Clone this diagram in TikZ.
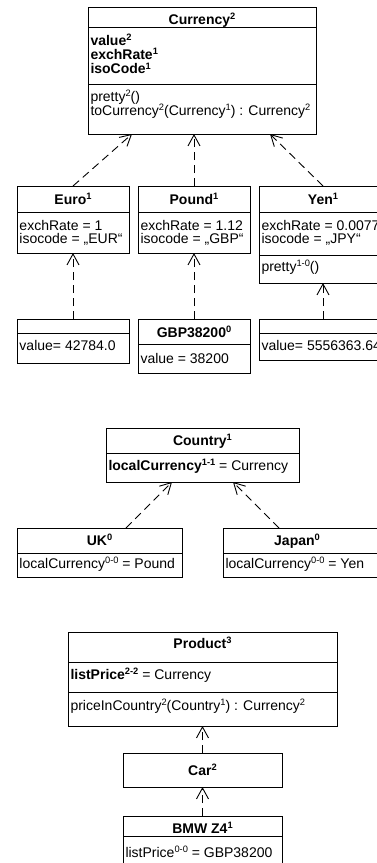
\documentclass[tikz,border=0pt]{standalone}
\usepackage{fontspec}
\setmainfont{Liberation Sans}
\usetikzlibrary{arrows.meta}
\newcommand\sups[1]{\raisebox{4.8pt}{\fontsize{9.3}{9.3}\selectfont#1}}
\tikzset{
  umlbox/.style={draw, line width=0.9pt, inner sep=0pt, outer sep=0pt, anchor=north west, fill=white},
  sepline/.style={line width=0.9pt},
  txt/.style={inner sep=0pt, outer sep=0pt, font=\fontsize{14}{16}\selectfont},
  ttl/.style={txt, anchor=base, font=\fontsize{14}{16}\selectfont\bfseries},
  attr/.style={txt, anchor=base west},
  dep/.style={line width=0.9pt, dash pattern=on 8pt off 5pt, -{Straight Barb[length=11pt, width=12pt]}}
}
\begin{document}
\begin{tikzpicture}[x=1pt, y=-1pt]
\useasboundingbox (0,0) rectangle (377,863);
\fill[white] (0,0) rectangle (377,863);
\clip (0,0) rectangle (377,863);

% Currency
\node[umlbox, minimum width=228pt, minimum height=127pt] (currency) at (88,7) {};
\draw[sepline] (88,27) -- (316,27);
\draw[sepline] (88,84) -- (316,84);
\node[ttl] (currency-t) at (202,24.5) {Currency\sups{2}};
\node[attr] (currency-a1) at (90.5,45.5) {\textbf{value\sups{2}}};
\node[attr] (currency-a2) at (90.5,59.7) {\textbf{exchRate\sups{1}}};
\node[attr] (currency-a3) at (90.5,73.9) {\textbf{isoCode\sups{1}}};
\node[attr] (currency-m1) at (90.5,101) {pretty\sups{2}()};
\node[attr] (currency-m2) at (90.5,115) {toCurrency\sups{2}(Currency\sups{1}) : Currency\sups{2}};

% Euro
\node[umlbox, minimum width=112pt, minimum height=67pt] (euro) at (17,186) {};
\draw[sepline] (17,212) -- (129,212);
\node[ttl] (euro-t) at (73,204) {Euro\sups{1}};
\node[attr] (euro-a1) at (19.5,230) {exchRate = 1};
\node[attr] (euro-a2) at (19.5,243.5) {isocode = „EUR“};

% Pound
\node[umlbox, minimum width=112pt, minimum height=67pt] (pound) at (138,186) {};
\draw[sepline] (138,212) -- (250,212);
\node[ttl] (pound-t) at (194,204) {Pound\sups{1}};
\node[attr] (pound-a1) at (140.5,230) {exchRate = 1.12};
\node[attr] (pound-a2) at (140.5,243.5) {isocode = „GBP“};

% Yen
\node[umlbox, minimum width=128pt, minimum height=97pt] (yen) at (259,186) {};
\draw[sepline] (259,212) -- (387,212);
\draw[sepline] (259,255) -- (387,255);
\node[ttl] (yen-t) at (323,204) {Yen\sups{1}};
\node[attr] (yen-a1) at (261.5,230) {exchRate = 0.0077};
\node[attr] (yen-a2) at (261.5,243.5) {isocode = „JPY“};
\node[attr] (yen-m1) at (261.5,271.5) {pretty\sups{1-0}()};

% instances
\node[umlbox, minimum width=112pt, minimum height=44pt] (euroinst) at (17,319) {};
\draw[sepline] (17,333) -- (129,333);
\node[attr] (euroinst-a1) at (19.5,350.5) {value= 42784.0};

\node[umlbox, minimum width=112pt, minimum height=54pt] (gbp) at (138,319) {};
\draw[sepline] (138,344) -- (250,344);
\node[ttl] (gbp-t) at (194,337) {GBP38200\sups{0}};
\node[attr] (gbp-a1) at (140.5,363.5) {value = 38200};

\node[umlbox, minimum width=128pt, minimum height=41pt] (yeninst) at (259,319) {};
\draw[sepline] (259,333) -- (387,333);
\node[attr] (yeninst-a1) at (261.5,350.5) {value= 5556363.64};

% Country
\node[umlbox, minimum width=193pt, minimum height=54pt] (country) at (106,428) {};
\draw[sepline] (106,453) -- (299,453);
\node[ttl] (country-t) at (202.5,445.5) {Country\sups{1}};
\node[attr] (country-a1) at (108.5,470.5) {\textbf{localCurrency\sups{1-1}} = Currency};

\node[umlbox, minimum width=165pt, minimum height=49pt] (uk) at (17,528) {};
\draw[sepline] (17,553) -- (182,553);
\node[ttl] (uk-t) at (99.5,545.5) {UK\sups{0}};
\node[attr] (uk-a1) at (19.5,568.5) {localCurrency\sups{0-0} = Pound};

\node[umlbox, minimum width=160pt, minimum height=49pt] (japan) at (223,528) {};
\draw[sepline] (223,553) -- (383,553);
\node[ttl] (japan-t) at (297,545.5) {Japan\sups{0}};
\node[attr] (japan-a1) at (225.5,568.5) {localCurrency\sups{0-0} = Yen};

% Product
\node[umlbox, minimum width=269pt, minimum height=94pt] (product) at (68,632) {};
\draw[sepline] (68,662) -- (337,662);
\draw[sepline] (68,692) -- (337,692);
\node[ttl] (product-t) at (202.5,648.5) {Product\sups{3}};
\node[attr] (product-a1) at (70.5,679.5) {\textbf{listPrice\sups{2-2}} = Currency};
\node[attr] (product-m1) at (70.5,710) {priceInCountry\sups{2}(Country\sups{1}) : Currency\sups{2}};

\node[umlbox, minimum width=159pt, minimum height=34pt] (car) at (123,753) {};
\node[ttl] (car-t) at (202.5,775.5) {Car\sups{2}};

\node[umlbox, minimum width=159pt, minimum height=50pt] (bmw) at (123,816) {};
\draw[sepline] (123,836) -- (282,836);
\node[ttl] (bmw-t) at (202.5,833) {BMW Z4\sups{1}};
\node[attr] (bmw-a1) at (125.5,857.5) {listPrice\sups{0-0} = GBP38200};

% connector end points
\coordinate (cur-l) at (132,134);
\coordinate (cur-r) at (270,134);
\coordinate (cty-l) at (172,482);
\coordinate (cty-r) at (233,482);
\coordinate (uk-s) at (126,528);
\coordinate (jp-s) at (279,528);

% connectors
\draw[dep] (euro.north) -- (cur-l);
\draw[dep] (pound.north) -- (pound.north |- currency.south);
\draw[dep] (yen.north) -- (cur-r);
\draw[dep] (euroinst.north) -- (euro.south);
\draw[dep] (gbp.north) -- (pound.south);
\draw[dep] (yeninst.north) -- (yen.south);
\draw[dep] (uk-s) -- (cty-l);
\draw[dep] (jp-s) -- (cty-r);
\draw[dep] (car.north) -- (product.south);
\draw[dep] (bmw.north) -- (car.south);
\end{tikzpicture}
\end{document}
